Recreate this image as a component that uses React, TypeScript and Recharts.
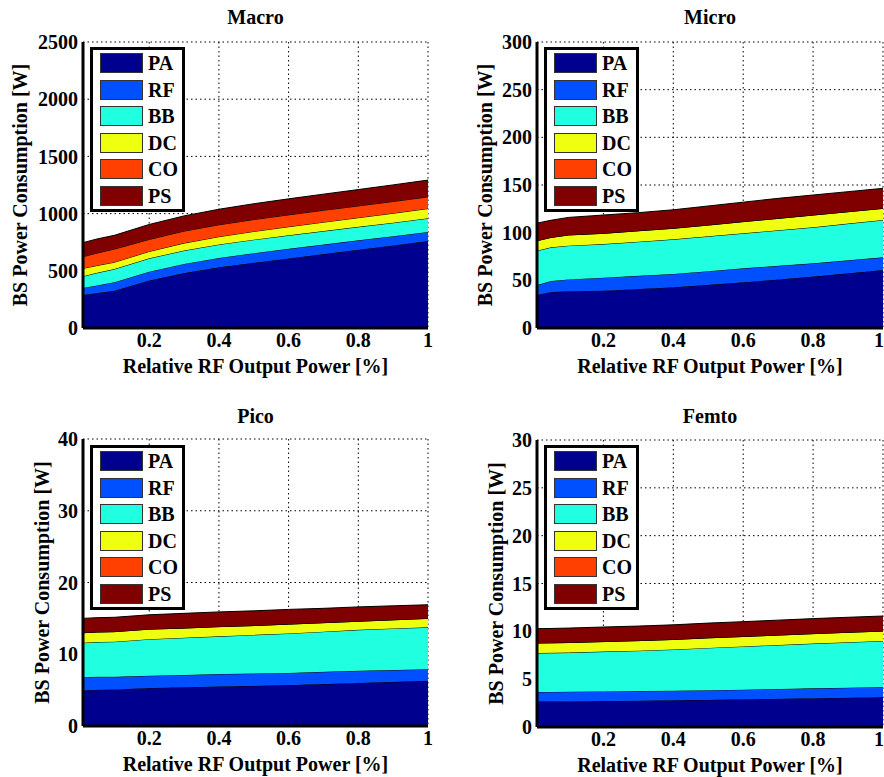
import React from 'react';
import { AreaChart, Area, XAxis, YAxis, CartesianGrid, Legend } from 'recharts';

// Relative RF output power (x values)
const relPower = [0.01, 0.05, 0.1, 0.2, 0.3, 0.4, 0.5, 0.6, 0.7, 0.8, 0.9, 1.0];
const xTicks = [0.2, 0.4, 0.6, 0.8, 1];
const seriesNames = ['PA', 'RF', 'BB', 'DC', 'CO', 'PS'];

// Macro [W]
const macroPA = [288, 305, 325, 415, 480, 530, 570, 608, 646, 684, 722, 760];
const macroRF = [62, 67, 75, 77, 80, 82, 84, 84, 83, 82, 80, 79];
const macroBB = [102, 110, 115, 117, 117, 118, 118, 118, 118, 118, 118, 120];
const macroDC = [69, 64, 60, 60, 65, 68, 72, 75, 78, 80, 83, 85];
const macroCO = [102, 109, 115, 105, 105, 104, 104, 104, 104, 103, 103, 102];
const macroPS = [123, 123, 120, 131, 133, 136, 138, 140, 141, 143, 145, 147];
const macroYTicks = [0, 500, 1000, 1500, 2000, 2500];

// Micro [W]
const microPA = [34.6, 37.8, 38.5, 39.2, 41.0, 42.7, 45.3, 47.9, 50.9, 53.9, 57.3, 60.8];
const microRF = [10.4, 11.5, 12.5, 13.6, 13.7, 14.0, 14.3, 14.7, 14.3, 13.9, 13.7, 13.3];
const microBB = [36.0, 35.3, 35.4, 35.2, 35.8, 36.3, 36.6, 36.7, 37.3, 37.8, 38.5, 39.2];
const microDC = [10.6, 10.4, 11.2, 11.3, 11.5, 11.6, 11.8, 12.3, 12.5, 12.9, 12.5, 12.2];
const microCO = [0, 0, 0, 0, 0, 0, 0, 0, 0, 0, 0, 0];
const microPS = [18.4, 18.0, 18.4, 19.2, 19.0, 19.4, 20.0, 20.4, 21.0, 21.0, 21.0, 21.0];
const microYTicks = [0, 50, 100, 150, 200, 250, 300];

// Pico [W]
const picoPA = [5.0, 5.05, 5.1, 5.3, 5.4, 5.5, 5.6, 5.7, 5.85, 6.0, 6.15, 6.3];
const picoRF = [1.8, 1.8, 1.75, 1.7, 1.7, 1.75, 1.7, 1.7, 1.7, 1.7, 1.65, 1.6];
const picoBB = [4.8, 4.85, 4.9, 5.1, 5.2, 5.25, 5.4, 5.5, 5.6, 5.7, 5.8, 5.85];
const picoDC = [1.4, 1.4, 1.4, 1.4, 1.35, 1.35, 1.3, 1.3, 1.25, 1.2, 1.2, 1.25];
const picoCO = [0, 0, 0, 0, 0, 0, 0, 0, 0, 0, 0, 0];
const picoPS = [2.0, 2.0, 2.0, 2.0, 2.05, 2.05, 2.05, 2.05, 2.0, 2.0, 1.95, 1.9];
const picoYTicks = [0, 10, 20, 30, 40];

// Femto [W]
const femtoPA = [2.68, 2.69, 2.7, 2.72, 2.75, 2.79, 2.84, 2.89, 2.95, 3.0, 3.07, 3.14];
const femtoRF = [0.98, 0.98, 0.99, 1.0, 1.01, 1.01, 1.01, 1.01, 1.02, 1.04, 1.04, 1.04];
const femtoBB = [4.07, 4.08, 4.09, 4.16, 4.22, 4.3, 4.42, 4.52, 4.6, 4.68, 4.75, 4.81];
const femtoDC = [1.05, 1.05, 1.05, 1.05, 1.05, 1.05, 1.05, 1.04, 1.04, 1.04, 1.04, 1.04];
const femtoCO = [0, 0, 0, 0, 0, 0, 0, 0, 0, 0, 0, 0];
const femtoPS = [1.5, 1.5, 1.51, 1.52, 1.52, 1.53, 1.54, 1.55, 1.56, 1.57, 1.57, 1.57];
const femtoYTicks = [0, 5, 10, 15, 20, 25, 30];

const COLORS: Record<string, string> = {
  PA: '#00008F',
  RF: '#0050FF',
  BB: '#20FFDF',
  DC: '#EFFF10',
  CO: '#FF4000',
  PS: '#800000',
};

const FONT = "'Liberation Serif', 'Times New Roman', serif";
const textStyle = { fill: '#000', fontFamily: FONT, fontWeight: 700, fontSize: 20 };

function buildRows(pa: number[], rf: number[], bb: number[], dc: number[], co: number[], ps: number[]) {
  return relPower.map((x, i) => ({ x, PA: pa[i], RF: rf[i], BB: bb[i], DC: dc[i], CO: co[i], PS: ps[i] }));
}

const fmtX = (v: number) => (v === 1 ? '1' : v.toFixed(1));

const renderLegend = () => (
  <div
    style={{
      boxSizing: 'border-box',
      width: 95,
      height: 165,
      border: '3px solid #000',
      background: '#fff',
      position: 'relative',
    }}
  >
    {seriesNames.map((k, i) => (
      <div
        key={k}
        style={{ position: 'absolute', left: 7, top: 3 + i * 26.6, height: 20, display: 'flex', alignItems: 'center' }}
      >
        <div style={{ width: 43, height: 20, background: COLORS[k], border: '1px solid #333', boxSizing: 'border-box' }} />
        <span style={{ marginLeft: 5, fontFamily: FONT, fontWeight: 700, fontSize: 20, color: '#000', lineHeight: '20px' }}>
          {k}
        </span>
      </div>
    ))}
  </div>
);

type PanelProps = {
  title: string;
  rows: any[];
  yMax: number;
  yTicks: number[];
  left: number;
  top: number;
  height: number;
  mTop: number;
  mRight: number;
  mBottom: number;
  yAxisWidth: number;
  yLabelOffset: number;
  titleTop: number;
  legendLeft: number;
  legendTop: number;
};

function Panel(p: PanelProps) {
  const plotLeft = p.yAxisWidth;
  const plotRight = 442 - p.mRight;
  const center = (plotLeft + plotRight) / 2;
  return (
    <div style={{ position: 'absolute', left: p.left, top: p.top, width: 442, height: p.height }}>
      <AreaChart
        width={442}
        height={p.height}
        data={p.rows}
        margin={{ top: p.mTop, right: p.mRight, bottom: p.mBottom, left: 0 }}
      >
        <CartesianGrid stroke="#000" strokeDasharray="1.5 3" strokeWidth={1} />
        {seriesNames.map((k) => (
          <Area
            key={k}
            type="linear"
            dataKey={k}
            name={k}
            stackId="s"
            stroke="#000"
            strokeWidth={1}
            fill={COLORS[k]}
            fillOpacity={1}
            dot={false}
            activeDot={false}
            isAnimationActive={false}
          />
        ))}
        <XAxis
          dataKey="x"
          type="number"
          domain={[0.01, 1]}
          ticks={xTicks}
          tickFormatter={fmtX}
          tick={textStyle}
          tickLine={false}
          tickSize={0}
          tickMargin={5}
          height={50}
          axisLine={{ stroke: '#000', strokeWidth: 3 }}
          label={{ value: 'Relative RF Output Power [%]', position: 'insideBottom', offset: 5, ...textStyle }}
        />
        <XAxis
          xAxisId="top"
          orientation="top"
          mirror
          dataKey="x"
          type="number"
          domain={[0.01, 1]}
          ticks={xTicks}
          tick={false}
          tickLine={{ stroke: '#000', strokeWidth: 2 }}
          tickSize={5}
          height={0}
          axisLine={{ stroke: '#000', strokeWidth: 3 }}
        />
        <YAxis
          type="number"
          domain={[0, p.yMax]}
          ticks={p.yTicks}
          tick={textStyle}
          tickLine={false}
          tickSize={0}
          tickMargin={5}
          width={p.yAxisWidth}
          axisLine={{ stroke: '#000', strokeWidth: 3 }}
          label={{
            value: 'BS Power Consumption [W]',
            angle: -90,
            position: 'insideLeft',
            offset: p.yLabelOffset,
            style: { textAnchor: 'middle' },
            ...textStyle,
          }}
        />
        <YAxis
          yAxisId="right"
          orientation="right"
          mirror
          type="number"
          domain={[0, p.yMax]}
          ticks={p.yTicks}
          tick={false}
          tickLine={{ stroke: '#000', strokeWidth: 2 }}
          tickSize={5}
          width={0}
          axisLine={{ stroke: '#000', strokeWidth: 3 }}
        />
        <Legend
          layout="vertical"
          align="center"
          verticalAlign="middle"
          content={renderLegend}
          wrapperStyle={{ left: p.legendLeft, top: p.legendTop, width: 95, height: 165 }}
        />
      </AreaChart>
      <div
        style={{
          position: 'absolute',
          left: center - 100,
          top: p.titleTop,
          width: 200,
          textAlign: 'center',
          fontFamily: FONT,
          fontWeight: 700,
          fontSize: 20,
          lineHeight: '20px',
          color: '#000',
          pointerEvents: 'none',
        }}
      >
        {p.title}
      </div>
    </div>
  );
}

export default function App() {
  const macroRows = buildRows(macroPA, macroRF, macroBB, macroDC, macroCO, macroPS);
  const microRows = buildRows(microPA, microRF, microBB, microDC, microCO, microPS);
  const picoRows = buildRows(picoPA, picoRF, picoBB, picoDC, picoCO, picoPS);
  const femtoRows = buildRows(femtoPA, femtoRF, femtoBB, femtoDC, femtoCO, femtoPS);

  return (
    <div style={{ position: 'absolute', left: 0, top: 0, width: 884, height: 777, background: '#fff', overflow: 'hidden' }}>
      <Panel
        title="Macro"
        rows={macroRows}
        yMax={2500}
        yTicks={macroYTicks}
        left={0}
        top={0}
        height={388}
        mTop={42}
        mRight={14}
        mBottom={10}
        yAxisWidth={83}
        yLabelOffset={20}
        titleTop={7}
        legendLeft={90}
        legendTop={47}
      />
      <Panel
        title="Micro"
        rows={microRows}
        yMax={300}
        yTicks={microYTicks}
        left={442}
        top={0}
        height={388}
        mTop={42}
        mRight={1}
        mBottom={10}
        yAxisWidth={95}
        yLabelOffset={43}
        titleTop={7}
        legendLeft={102}
        legendTop={47}
      />
      <Panel
        title="Pico"
        rows={picoRows}
        yMax={40}
        yTicks={picoYTicks}
        left={0}
        top={388}
        height={389}
        mTop={51}
        mRight={14}
        mBottom={1}
        yAxisWidth={83}
        yLabelOffset={42}
        titleTop={18}
        legendLeft={90}
        legendTop={57}
      />
      <Panel
        title="Femto"
        rows={femtoRows}
        yMax={30}
        yTicks={femtoYTicks}
        left={442}
        top={388}
        height={389}
        mTop={52}
        mRight={1}
        mBottom={0}
        yAxisWidth={95}
        yLabelOffset={54}
        titleTop={18}
        legendLeft={102}
        legendTop={57}
      />
    </div>
  );
}
